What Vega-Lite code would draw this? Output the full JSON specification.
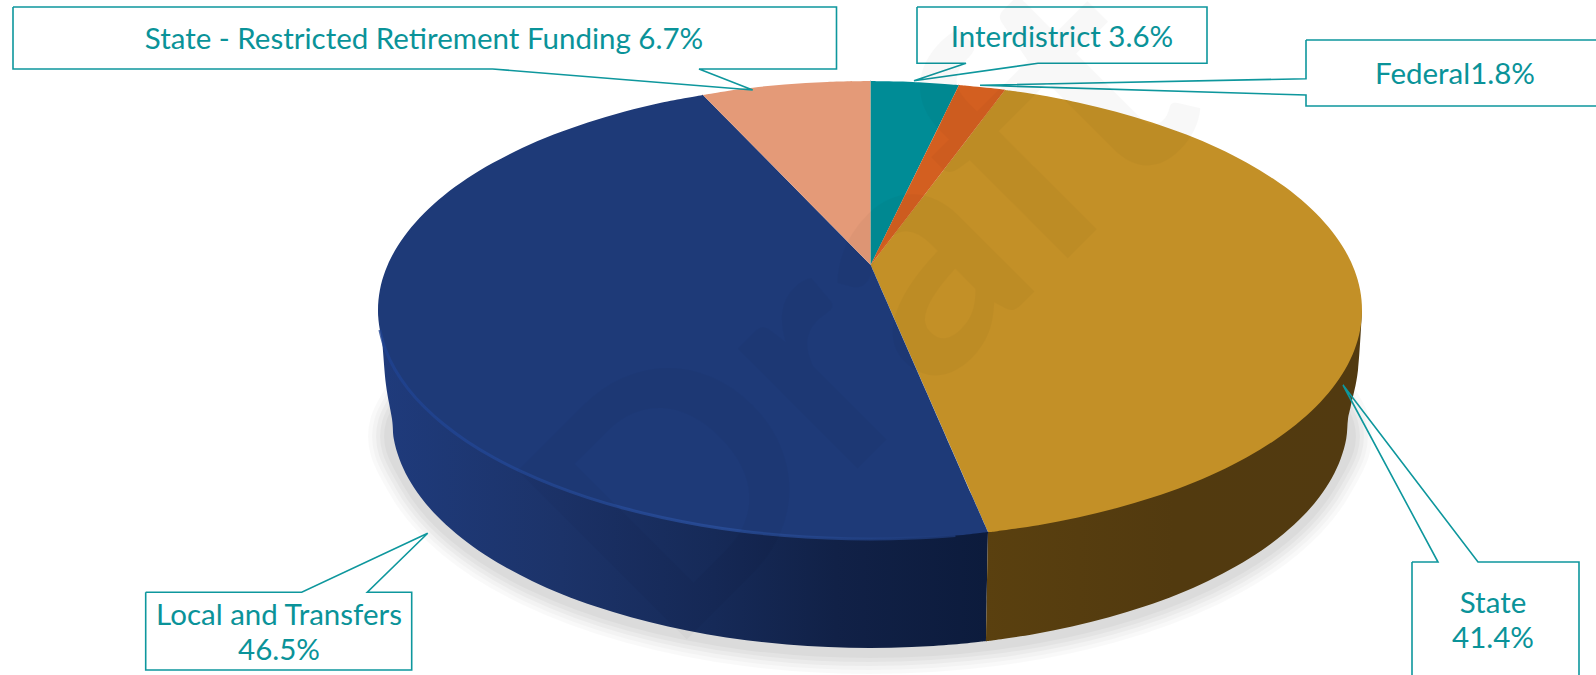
{
"$schema":"https://vega.github.io/schema/vega-lite/v6.json",
"width":1596,"height":675,"padding":0,
"autosize":{"type":"none"},
"background":"white",
"config":{"view":{"stroke":null}},
"datasets":{
"shadowEdge":[
{"i":0,"x":450,"y":340},{"i":1,"x":392,"y":423},{"i":2,"x":408.3,"y":482.3},{"i":3,"x":456,"y":537.5},{"i":4,"x":532,"y":584.9},{"i":5,"x":631,"y":621.3},{"i":6,"x":746.3,"y":644.2},{"i":7,"x":870,"y":652},{"i":8,"x":993.7,"y":644.2},{"i":9,"x":1109,"y":621.3},{"i":10,"x":1208,"y":584.9},{"i":11,"x":1284,"y":537.5},{"i":12,"x":1331.7,"y":482.3},{"i":13,"x":1348,"y":423},{"i":14,"x":1290,"y":340}
],
"sideNavy":[
{"i":0,"x":378,"y":310},{"i":1,"x":382,"y":340},{"i":2,"x":386,"y":385},{"i":3,"x":392,"y":419},{"i":4,"x":393.8,"y":439},{"i":5,"x":399.3,"y":458.8},{"i":6,"x":408.3,"y":478.3},{"i":7,"x":420.8,"y":497.3},{"i":8,"x":436.8,"y":515.8},{"i":9,"x":456,"y":533.5},{"i":10,"x":478.4,"y":550.4},{"i":11,"x":503.9,"y":566.2},{"i":12,"x":532,"y":580.9},{"i":13,"x":562.7,"y":594.4},{"i":14,"x":595.8,"y":606.6},{"i":15,"x":631,"y":617.3},{"i":16,"x":668,"y":626.5},{"i":17,"x":706.5,"y":634.2},{"i":18,"x":746.3,"y":640.2},{"i":19,"x":787,"y":644.5},{"i":20,"x":828.3,"y":647.1},{"i":21,"x":870,"y":648},{"i":22,"x":911.7,"y":647.1},{"i":23,"x":953,"y":644.5},{"i":24,"x":978,"y":642},{"i":25,"x":986,"y":641},{"i":26,"x":986,"y":641},{"i":27,"x":986.1,"y":633},{"i":28,"x":986.7,"y":601},{"i":29,"x":988,"y":532}
],
"sideGold":[
{"i":0,"x":988,"y":532},{"i":1,"x":986.7,"y":601},{"i":2,"x":986.1,"y":633},{"i":3,"x":986,"y":641},{"i":4,"x":986,"y":641},{"i":5,"x":993.7,"y":640.2},{"i":6,"x":1033.5,"y":634.2},{"i":7,"x":1072,"y":626.5},{"i":8,"x":1109,"y":617.3},{"i":9,"x":1144.2,"y":606.6},{"i":10,"x":1177.3,"y":594.4},{"i":11,"x":1208,"y":580.9},{"i":12,"x":1236.1,"y":566.2},{"i":13,"x":1261.6,"y":550.4},{"i":14,"x":1284,"y":533.5},{"i":15,"x":1303.2,"y":515.8},{"i":16,"x":1319.2,"y":497.3},{"i":17,"x":1331.7,"y":478.3},{"i":18,"x":1340.7,"y":458.8},{"i":19,"x":1346.2,"y":439},{"i":20,"x":1348,"y":419},{"i":21,"x":1351,"y":405},{"i":22,"x":1358,"y":370},{"i":23,"x":1362,"y":310}
],
"top":[
{"s":"State","i":0,"x":870.7,"y":265},{"s":"State","i":0.2,"x":980.6,"y":121.7},{"s":"State","i":0.4,"x":1000.1,"y":96.3},{"s":"State","i":0.6,"x":1005,"y":90},{"s":"State","i":0.8,"x":1005,"y":90},{"s":"State","i":1,"x":1013,"y":91.1},{"s":"State","i":2,"x":1038.3,"y":94.8},{"s":"State","i":3,"x":1077.9,"y":102.5},{"s":"State","i":4,"x":1116,"y":111.7},{"s":"State","i":5,"x":1152.2,"y":122.4},{"s":"State","i":6,"x":1186.3,"y":134.6},{"s":"State","i":7,"x":1217.9,"y":148.1},{"s":"State","i":8,"x":1246.9,"y":162.8},{"s":"State","i":9,"x":1273,"y":178.6},{"s":"State","i":10,"x":1296.1,"y":195.5},{"s":"State","i":11,"x":1315.9,"y":213.2},{"s":"State","i":12,"x":1332.3,"y":231.7},{"s":"State","i":13,"x":1345.2,"y":250.7},{"s":"State","i":14,"x":1354.5,"y":270.2},{"s":"State","i":15,"x":1360.1,"y":290},{"s":"State","i":16,"x":1362,"y":310},{"s":"State","i":17,"x":1360.1,"y":330},{"s":"State","i":18,"x":1354.5,"y":349.8},{"s":"State","i":19,"x":1345.2,"y":369.3},{"s":"State","i":20,"x":1332.3,"y":388.3},{"s":"State","i":21,"x":1315.9,"y":406.8},{"s":"State","i":22,"x":1296.1,"y":424.5},{"s":"State","i":23,"x":1273,"y":441.4},{"s":"State","i":24,"x":1246.9,"y":457.2},{"s":"State","i":25,"x":1217.9,"y":471.9},{"s":"State","i":26,"x":1186.3,"y":485.4},{"s":"State","i":27,"x":1152.2,"y":497.6},{"s":"State","i":28,"x":1116,"y":508.3},{"s":"State","i":29,"x":1077.9,"y":517.5},{"s":"State","i":30,"x":1038.3,"y":525.2},{"s":"State","i":31,"x":997.3,"y":531.2},{"s":"State","i":32,"x":988,"y":532},
{"s":"Local","i":0,"x":870.7,"y":265},{"s":"Local","i":0.2,"x":971.9,"y":495.4},{"s":"Local","i":0.4,"x":984.8,"y":524.7},{"s":"Local","i":0.6,"x":988,"y":532},{"s":"Local","i":0.8,"x":988,"y":532},{"s":"Local","i":1,"x":980,"y":532.9},{"s":"Local","i":2,"x":955.4,"y":535.5},{"s":"Local","i":3,"x":912.9,"y":538.1},{"s":"Local","i":4,"x":870,"y":539},{"s":"Local","i":5,"x":827.1,"y":538.1},{"s":"Local","i":6,"x":784.6,"y":535.5},{"s":"Local","i":7,"x":742.7,"y":531.2},{"s":"Local","i":8,"x":701.7,"y":525.2},{"s":"Local","i":9,"x":662.1,"y":517.5},{"s":"Local","i":10,"x":624,"y":508.3},{"s":"Local","i":11,"x":587.8,"y":497.6},{"s":"Local","i":12,"x":553.7,"y":485.4},{"s":"Local","i":13,"x":522.1,"y":471.9},{"s":"Local","i":14,"x":493.1,"y":457.2},{"s":"Local","i":15,"x":467,"y":441.4},{"s":"Local","i":16,"x":443.9,"y":424.5},{"s":"Local","i":17,"x":424.1,"y":406.8},{"s":"Local","i":18,"x":407.7,"y":388.3},{"s":"Local","i":19,"x":394.8,"y":369.3},{"s":"Local","i":20,"x":385.5,"y":349.8},{"s":"Local","i":21,"x":379.9,"y":330},{"s":"Local","i":22,"x":378,"y":310},{"s":"Local","i":23,"x":379.9,"y":290},{"s":"Local","i":24,"x":385.5,"y":270.2},{"s":"Local","i":25,"x":394.8,"y":250.7},{"s":"Local","i":26,"x":407.7,"y":231.7},{"s":"Local","i":27,"x":424.1,"y":213.2},{"s":"Local","i":28,"x":443.9,"y":195.5},{"s":"Local","i":29,"x":467,"y":178.6},{"s":"Local","i":30,"x":493.1,"y":162.8},{"s":"Local","i":31,"x":522.1,"y":148.1},{"s":"Local","i":32,"x":553.7,"y":134.6},{"s":"Local","i":33,"x":587.8,"y":122.4},{"s":"Local","i":34,"x":624,"y":111.7},{"s":"Local","i":35,"x":662.1,"y":102.5},{"s":"Local","i":36,"x":703,"y":95},
{"s":"Retirement","i":0,"x":870.7,"y":265},{"s":"Retirement","i":0.2,"x":731.1,"y":123.5},{"s":"Retirement","i":0.4,"x":708.6,"y":100.7},{"s":"Retirement","i":0.6,"x":703,"y":95},{"s":"Retirement","i":0.8,"x":703,"y":95},{"s":"Retirement","i":1,"x":710.9,"y":93.8},{"s":"Retirement","i":2,"x":742.7,"y":88.8},{"s":"Retirement","i":3,"x":784.6,"y":84.5},{"s":"Retirement","i":4,"x":827.1,"y":81.9},{"s":"Retirement","i":5,"x":870.7,"y":81},
{"s":"Interdistrict","i":0,"x":870.7,"y":265},{"s":"Interdistrict","i":0.2,"x":870.7,"y":121},{"s":"Interdistrict","i":0.4,"x":870.7,"y":89},{"s":"Interdistrict","i":0.6,"x":870.7,"y":81},{"s":"Interdistrict","i":0.8,"x":870.7,"y":81},{"s":"Interdistrict","i":1,"x":878.7,"y":81.2},{"s":"Interdistrict","i":2,"x":912.9,"y":81.9},{"s":"Interdistrict","i":3,"x":959,"y":85},
{"s":"Federal","i":0,"x":870.7,"y":265},{"s":"Federal","i":0.2,"x":941.4,"y":120.9},{"s":"Federal","i":0.4,"x":955.5,"y":92.2},{"s":"Federal","i":0.6,"x":959,"y":85},{"s":"Federal","i":0.8,"x":959,"y":85},{"s":"Federal","i":1,"x":967,"y":85.8},{"s":"Federal","i":2,"x":997.3,"y":88.8},{"s":"Federal","i":3,"x":1005,"y":90}
],
"rim":[
{"i":0,"x":379.9,"y":330},{"i":1,"x":385.5,"y":349.8},{"i":2,"x":394.8,"y":369.3},{"i":3,"x":407.7,"y":388.3},{"i":4,"x":424.1,"y":406.8},{"i":5,"x":443.9,"y":424.5},{"i":6,"x":467,"y":441.4},{"i":7,"x":493.1,"y":457.2},{"i":8,"x":522.1,"y":471.9},{"i":9,"x":553.7,"y":485.4},{"i":10,"x":587.8,"y":497.6},{"i":11,"x":624,"y":508.3},{"i":12,"x":662.1,"y":517.5},{"i":13,"x":701.7,"y":525.2},{"i":14,"x":742.7,"y":531.2},{"i":15,"x":784.6,"y":535.5},{"i":16,"x":827.1,"y":538.1},{"i":17,"x":870,"y":539},{"i":18,"x":912.9,"y":538.1},{"i":19,"x":955.4,"y":535.5}
],
"callouts":[
{"c":"Retirement","i":0,"x":13,"y":7},{"c":"Retirement","i":1,"x":836.5,"y":7},{"c":"Retirement","i":2,"x":836.5,"y":69},{"c":"Retirement","i":3,"x":699,"y":69},{"c":"Retirement","i":4,"x":752.7,"y":90},{"c":"Retirement","i":5,"x":492.6,"y":69},{"c":"Retirement","i":6,"x":13,"y":69},{"c":"Retirement","i":7,"x":13,"y":7},
{"c":"Interdistrict","i":0,"x":917,"y":7},{"c":"Interdistrict","i":1,"x":1207,"y":7},{"c":"Interdistrict","i":2,"x":1207,"y":63.3},{"c":"Interdistrict","i":3,"x":1038,"y":63.3},{"c":"Interdistrict","i":4,"x":914,"y":80.7},{"c":"Interdistrict","i":5,"x":966,"y":63.3},{"c":"Interdistrict","i":6,"x":917,"y":63.3},{"c":"Interdistrict","i":7,"x":917,"y":7},
{"c":"Federal","i":0,"x":1306,"y":40},{"c":"Federal","i":1,"x":1600,"y":40},{"c":"Federal","i":2,"x":1600,"y":106},{"c":"Federal","i":3,"x":1306,"y":106},{"c":"Federal","i":4,"x":1306,"y":95},{"c":"Federal","i":5,"x":980,"y":85.3},{"c":"Federal","i":6,"x":1306,"y":78.7},{"c":"Federal","i":7,"x":1306,"y":40},
{"c":"State","i":0,"x":1412,"y":562},{"c":"State","i":1,"x":1438,"y":562},{"c":"State","i":2,"x":1343,"y":385},{"c":"State","i":3,"x":1478,"y":562},{"c":"State","i":4,"x":1579,"y":562},{"c":"State","i":5,"x":1579,"y":680},{"c":"State","i":6,"x":1412,"y":680},{"c":"State","i":7,"x":1412,"y":562},
{"c":"Local","i":0,"x":145.7,"y":592.3},{"c":"Local","i":1,"x":301.7,"y":592.3},{"c":"Local","i":2,"x":427.7,"y":533.3},{"c":"Local","i":3,"x":367.3,"y":592.3},{"c":"Local","i":4,"x":411.7,"y":592.3},{"c":"Local","i":5,"x":411.7,"y":670},{"c":"Local","i":6,"x":145.7,"y":670},{"c":"Local","i":7,"x":145.7,"y":592.3}
],
"labels":[
{"t":"State - Restricted Retirement Funding 6.7%","x":424,"y":49},
{"t":"Interdistrict 3.6%","x":1062,"y":47},
{"t":"Federal1.8%","x":1455,"y":84},
{"t":"State","x":1493,"y":613},
{"t":"41.4%","x":1493,"y":648},
{"t":"Local and Transfers","x":279,"y":625},
{"t":"46.5%","x":279,"y":660}
],
"wm":[{"t":"Draft","x":668,"y":658}]
},
"encoding":{
"x":{"field":"x","type":"quantitative","scale":{"domain":[0,1596],"nice":false,"zero":false},"axis":null},
"y":{"field":"y","type":"quantitative","scale":{"domain":[675,0],"nice":false,"zero":false},"axis":null}
},
"layer":[
{"data":{"name":"shadowEdge"},"mark":{"type":"line","interpolate":"cardinal","stroke":"#000000","strokeWidth":44,"opacity":0.022},"encoding":{"order":{"field":"i","type":"quantitative"}}},
{"data":{"name":"shadowEdge"},"mark":{"type":"line","interpolate":"cardinal","stroke":"#000000","strokeWidth":36,"opacity":0.025},"encoding":{"order":{"field":"i","type":"quantitative"}}},
{"data":{"name":"shadowEdge"},"mark":{"type":"line","interpolate":"cardinal","stroke":"#000000","strokeWidth":28,"opacity":0.03},"encoding":{"order":{"field":"i","type":"quantitative"}}},
{"data":{"name":"shadowEdge"},"mark":{"type":"line","interpolate":"cardinal","stroke":"#000000","strokeWidth":20,"opacity":0.03},"encoding":{"order":{"field":"i","type":"quantitative"}}},
{"data":{"name":"shadowEdge"},"mark":{"type":"line","interpolate":"cardinal","stroke":"#000000","strokeWidth":12,"opacity":0.03},"encoding":{"order":{"field":"i","type":"quantitative"}}},
{"data":{"name":"sideNavy"},
 "mark":{"type":"line","filled":true,"interpolate":"cardinal","stroke":null,"fill":{"gradient":"linear","x1":0,"y1":0,"x2":1,"y2":0,"stops":[{"offset":0,"color":"#1f3b7c"},{"offset":0.3,"color":"#1c3369"},{"offset":0.55,"color":"#162a58"},{"offset":0.75,"color":"#112147"},{"offset":1,"color":"#0c1b3c"}]}},
 "encoding":{"order":{"field":"i","type":"quantitative"}}},
{"data":{"name":"sideGold"},
 "mark":{"type":"line","filled":true,"interpolate":"cardinal","stroke":null,"fill":{"gradient":"linear","x1":0,"y1":0,"x2":1,"y2":0,"stops":[{"offset":0,"color":"#5a400f"},{"offset":0.5,"color":"#523a0f"},{"offset":1,"color":"#523a10"}]}},
 "encoding":{"order":{"field":"i","type":"quantitative"}}},
{"data":{"name":"top"},
 "mark":{"type":"line","filled":true,"interpolate":"cardinal","stroke":null},
 "encoding":{"order":{"field":"i","type":"quantitative"},
  "color":{"field":"s","type":"nominal","legend":null,"scale":{"domain":["State","Local","Retirement","Interdistrict","Federal"],"range":["#c39027","#1e3a78","#e49a78","#008c96","#d35f20"]}}}},
{"data":{"name":"rim"},
 "mark":{"type":"line","interpolate":"cardinal","strokeWidth":3,"opacity":0.8,"stroke":{"gradient":"linear","x1":0,"y1":0,"x2":1,"y2":0,"stops":[{"offset":0,"color":"#1f4290"},{"offset":0.6,"color":"#2a4f9c"},{"offset":1,"color":"#1e3a78"}]}},
 "encoding":{"order":{"field":"i","type":"quantitative"}}},
{"data":{"name":"callouts"},
 "mark":{"type":"line","clip":true,"stroke":"#0e979d","strokeWidth":1.6,"strokeJoin":"miter"},
 "encoding":{"detail":{"field":"c"},"order":{"field":"i","type":"quantitative"}}},
{"data":{"name":"labels"},
 "mark":{"type":"text","font":"Lato","fontSize":29.5,"align":"center","baseline":"alphabetic","fill":"#0a9399"},
 "encoding":{"text":{"field":"t"}}},
{"data":{"name":"wm"},
 "mark":{"type":"text","font":"Lato","fontWeight":"bold","fontSize":330,"angle":315,"align":"left","baseline":"alphabetic","fill":"#000000","opacity":0.025},
 "encoding":{"text":{"field":"t"}}}
]
}
